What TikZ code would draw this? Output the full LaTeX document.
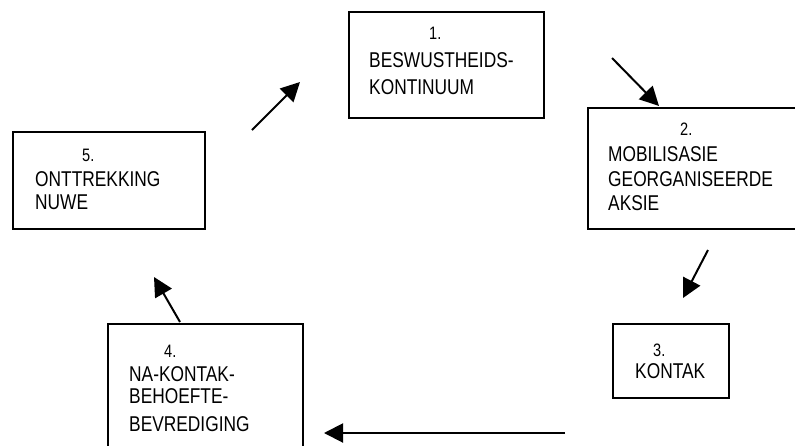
\documentclass[tikz,border=0pt]{standalone}
\usepackage{fontspec}
\setmainfont{Liberation Sans}
\usetikzlibrary{arrows.meta}
% condensed label text
\newcommand\cndtext[1]{\scalebox{0.81}[1]{#1}}
\begin{document}
\begin{tikzpicture}[x=1pt,y=-1pt,
  stagebox/.style={draw,line width=2pt,inner sep=0pt},
  lbl/.style={anchor=base west,inner sep=0pt,text height=15.5pt,text depth=0pt,
    font=\fontsize{21.4}{24}\selectfont},
  num/.style={lbl,text height=12.5pt,font=\fontsize{18}{20}\selectfont},
  flow/.style={line width=2pt,-{Triangle[length=19pt,width=19pt]}}]
\useasboundingbox (0,0) rectangle (795,445);
% stage boxes
\node[stagebox,minimum width=195pt,minimum height=106pt,anchor=north west] (b1) at (348,11) {};
\node[stagebox,minimum width=215pt,minimum height=121pt,anchor=north west] (b2) at (587,107) {};
\node[stagebox,minimum width=116pt,minimum height=74pt,anchor=north west] (b3) at (612,323) {};
\node[stagebox,minimum width=195pt,minimum height=130pt,anchor=north west] (b4) at (107,323) {};
\node[stagebox,minimum width=192pt,minimum height=97pt,anchor=north west] (b5) at (12,131) {};
% labels
\node[num] (t1a) at (429,39) {\cndtext{1.}};
\node[lbl] (t1b) at (369,67) {\cndtext{BESWUSTHEIDS-}};
\node[lbl] (t1c) at (369,94) {\cndtext{KONTINUUM}};
\node[num] (t2a) at (680,135) {\cndtext{2.}};
\node[lbl] (t2b) at (608,161) {\cndtext{MOBILISASIE}};
\node[lbl] (t2c) at (608,186) {\cndtext{GEORGANISEERDE}};
\node[lbl] (t2d) at (608,210) {\cndtext{AKSIE}};
\node[num] (t3a) at (653,356) {\cndtext{3.}};
\node[lbl] (t3b) at (635,378) {\cndtext{KONTAK}};
\node[num] (t4a) at (164,357) {\cndtext{4.}};
\node[lbl] (t4b) at (129,381) {\cndtext{NA-KONTAK-}};
\node[lbl] (t4c) at (129,403) {\cndtext{BEHOEFTE-}};
\node[lbl] (t4d) at (129,431) {\cndtext{BEVREDIGING}};
\node[num] (t5a) at (82,161) {\cndtext{5.}};
\node[lbl] (t5b) at (35,186) {\cndtext{ONTTREKKING}};
\node[lbl] (t5c) at (35,209) {\cndtext{NUWE}};
% arrow end points
\coordinate (a51) at (252,130);
\coordinate (a51e) at (300,82);
\coordinate (a12) at (612,58);
\coordinate (a12e) at (659,106);
\coordinate (a23) at (708,250);
\coordinate (a23e) at (683,298);
\coordinate (a34) at (565,433);
\coordinate (a34e) at (324,433);
\coordinate (a45) at (180,322);
\coordinate (a45e) at (154,277);
% cycle arrows
\draw[flow] (a51) -- (a51e);
\draw[flow] (a12) -- (a12e);
\draw[flow] (a23) -- (a23e);
\draw[flow] (a34) -- (a34e);
\draw[flow] (a45) -- (a45e);
\end{tikzpicture}
\end{document}
